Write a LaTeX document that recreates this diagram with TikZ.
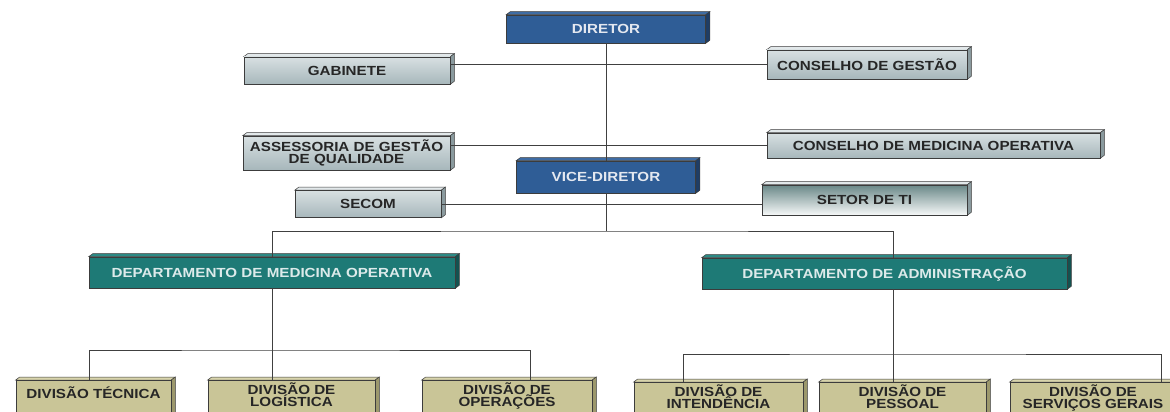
\documentclass[tikz,border=0pt]{standalone}
\usepackage{fontspec}
\newfontfamily\orgfont[FakeStretch=1.15]{Liberation Sans}
\usetikzlibrary{positioning}

\definecolor{edgegray}{HTML}{3C3C3C}
\definecolor{linegray}{HTML}{404040}
\definecolor{chiefblue}{HTML}{2F5D96}
\definecolor{chieftop}{HTML}{3E6CA4}
\definecolor{chiefside}{HTML}{1E3D66}
\definecolor{chieftext}{HTML}{E4E8F0}
\definecolor{stafftop}{HTML}{D8E0E2}
\definecolor{staffbot}{HTML}{A7B7BB}
\definecolor{staffface}{HTML}{E2E8EA}
\definecolor{staffside}{HTML}{8A9A9E}
\definecolor{itdark}{HTML}{6A8888}
\definecolor{itlight}{HTML}{F6F8F8}
\definecolor{deptteal}{HTML}{1E7A76}
\definecolor{depttop}{HTML}{2C8A85}
\definecolor{deptside}{HTML}{135250}
\definecolor{depttext}{HTML}{DCEAEA}
\definecolor{divkhaki}{HTML}{C9C597}
\definecolor{divtop}{HTML}{D8D4AC}
\definecolor{divside}{HTML}{9C986C}

\tikzset{
    bevel/.style 2 args={append after command={\pgfextra{
        \fill[#1, draw=edgegray, line width=0.5pt] (\tikzlastnode.north west) -- ++(4pt,3pt)
            -- ([shift={(4pt,3pt)}]\tikzlastnode.north east) -- (\tikzlastnode.north east) -- cycle;
        \fill[#2, draw=edgegray, line width=0.5pt] (\tikzlastnode.north east) -- ++(4pt,3pt)
            -- ([shift={(4pt,3pt)}]\tikzlastnode.south east) -- (\tikzlastnode.south east) -- cycle;
    }}}
}

\begin{document}
\begin{tikzpicture}[x=1pt, y=-1pt,
    box/.style={draw=edgegray, line width=0.6pt, inner sep=0pt, align=center,
        font=\orgfont\bfseries\fontsize{13.2}{12}\selectfont},
    chief/.style={box, fill=chiefblue, text=chieftext, bevel={chieftop}{chiefside}},
    staff/.style={box, top color=stafftop, bottom color=staffbot, text=black!85, bevel={staffface}{staffside}},
    itbox/.style={box, top color=itdark, bottom color=itlight, text=black!85, bevel={staffface}{staffside}},
    dept/.style={box, fill=deptteal, text=depttext, minimum height=31pt, bevel={depttop}{deptside}},
    division/.style={box, fill=divkhaki, text=black!85, anchor=north, inner ysep=2pt,
        text depth=30pt, bevel={divtop}{divside}},
    link/.style={draw=linegray, line width=0.9pt}
]
    \fill[white] (0,0) rectangle (1170,412);
    \useasboundingbox (0,0) rectangle (1170,412);
    \clip (0,0) rectangle (1170,412);

    % Direction
    \node[chief, minimum width=199pt, minimum height=28pt] (dir) at (606,29) {DIRETOR};
    \node[chief, minimum width=179pt, minimum height=32pt] (vice) at (606,177) {VICE-DIRETOR};

    % Staff
    \node[staff, minimum width=206pt, minimum height=27pt] (gab) at (347,70.5) {GABINETE};
    \node[staff, minimum width=200pt, minimum height=29pt] (cges) at (867,64.5) {CONSELHO DE GESTÃO};
    \node[staff, minimum width=207pt, minimum height=34pt] (ass) at (346.5,153) {ASSESSORIA DE GESTÃO\\DE QUALIDADE};
    \node[staff, minimum width=333pt, minimum height=25pt] (cmed) at (933.5,145.5) {CONSELHO DE MEDICINA OPERATIVA};
    \node[staff, minimum width=146pt, minimum height=27pt] (secom) at (368,204) {SECOM};
    \node[itbox, minimum width=205pt, minimum height=30pt] (setor) at (864.5,200) {SETOR DE TI};

    % Departments
    \node[dept, minimum width=366pt] (dmed) at (272,272.5) {DEPARTAMENTO DE MEDICINA OPERATIVA};
    \node[dept, minimum width=365pt] (dadm) at (884.5,273.5) {DEPARTAMENTO DE ADMINISTRAÇÃO};

    % Divisions
    \node[division, minimum width=155pt, text height=16pt] (dtec) at (93.5,380) {DIVISÃO TÉCNICA};
    \node[division, minimum width=167pt] (dlog) at (291.5,380) {DIVISÃO DE\\LOGÍSTICA};
    \node[division, minimum width=170pt] (dope) at (507,380) {DIVISÃO DE\\OPERAÇÕES};
    \node[division, minimum width=169pt] (dint) at (718.5,382) {DIVISÃO DE\\INTENDÊNCIA};
    \node[division, minimum width=167pt] (dpes) at (902.5,382) {DIVISÃO DE\\PESSOAL};
    \node[division, minimum width=166pt] (dser) at (1093,382) {DIVISÃO DE\\SERVIÇOS GERAIS};

    % Connectors
    \coordinate (busT) at (606,231);
    \coordinate (busL) at (272,350);
    \coordinate (busR) at (893.5,354);

    \draw[link] (dir.south) -- (vice.north);
    \draw[link] (gab.east |- cges.west) -- (cges.west);
    \draw[link] (ass.east |- cmed.west) -- (cmed.west);
    \draw[link] (secom.east) -- (secom.east -| setor.west);
    \draw[link] (vice.south) -- (busT);
    \draw[link] (dmed.north) |- (busT) -| ([xshift=9pt]dadm.north);

    \draw[link] (dmed.south) -- (dmed.south |- dlog.north);
    \draw[link] ([xshift=-4.5pt]dtec.north) |- (busL) -| ([xshift=23pt]dope.north);

    \draw[link] ([xshift=9pt]dadm.south) -- (busR |- dpes.north);
    \draw[link] ([xshift=-35pt]dint.north) |- (busR) -| ([xshift=68pt]dser.north);
\end{tikzpicture}
\end{document}
